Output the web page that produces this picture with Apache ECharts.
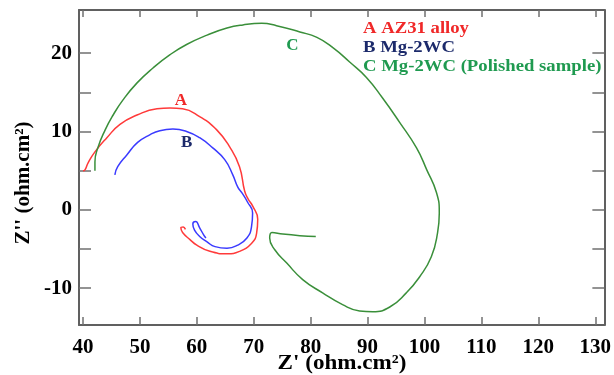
<!DOCTYPE html>
<html>
<head>
<meta charset="utf-8">
<script src="https://cdn.jsdelivr.net/npm/echarts@6/dist/echarts.min.js"></script>
<style>html,body{margin:0;padding:0;background:#fff;}#c{width:614px;height:375px;}</style>
</head>
<body>
<div id="c"></div>
<script>
// Z' values (ohm.cm²) and Z'' values for each sample
const seriesNames = ['A AZ31 alloy', 'B Mg-2WC', 'C Mg-2WC (Polished sample)'];
const xTicks = [40, 50, 60, 70, 80, 90, 100, 110, 120, 130];
const yTicks = [-10, 0, 10, 20];
const yMinorTicks = [-10, -5, 0, 5, 10, 15, 20];

const aX = [40.0, 40.35, 40.9, 42.1, 44.2, 46.5, 49.5, 53.0, 55.3, 57.5, 60.5, 63.5, 65.8, 67.5, 68.4, 69.0, 69.8, 70.7, 70.5, 69.6, 67.5, 65.3, 62.3, 60.0, 58.8, 57.5, 57.2, 57.6, 58.0];
const aY = [4.98, 5.1, 6.0, 7.4, 9.2, 10.9, 12.1, 12.9, 13.0, 12.9, 11.9, 10.2, 8.0, 5.5, 2.4, 1.4, 0.5, -1.2, -3.0, -4.3, -5.3, -5.6, -5.3, -4.5, -3.8, -2.9, -2.3, -2.2, -2.5];

const bX = [45.6, 46.1, 47.7, 49.6, 51.8, 53.5, 55.8, 58.2, 60.5, 62.8, 64.9, 66.3, 67.2, 67.9, 68.9, 69.8, 69.6, 68.8, 67.2, 65.3, 63.2, 61.8, 60.5, 59.6, 59.3, 59.8, 60.5, 61.2, 61.6];
const bY = [4.47, 5.5, 7.0, 8.6, 9.6, 10.1, 10.3, 10.0, 9.2, 7.9, 6.4, 4.5, 2.9, 2.2, 1.0, -0.4, -2.2, -3.6, -4.5, -4.9, -4.7, -4.1, -3.4, -2.6, -1.8, -1.5, -2.3, -3.2, -3.6];

const cX = [42.1, 42.1, 42.6, 43.9, 45.3, 47.0, 49.5, 52.3, 55.3, 58.2, 61.8, 65.3, 68.1, 71.4, 74.0, 78.1, 81.1, 83.9, 86.8, 89.8, 92.6, 95.6, 98.6, 100.4, 102.1, 102.6, 102.3, 101.2, 99.1, 96.8, 93.9, 90.9, 88.6, 85.6, 82.1, 78.6, 75.8, 73.7, 72.8, 73.2, 75.1, 78.1, 80.9];
const cY = [4.98, 6.1, 7.9, 10.2, 12.1, 14.0, 16.2, 18.1, 19.8, 21.1, 22.3, 23.2, 23.6, 23.8, 23.5, 22.7, 22.0, 20.7, 18.9, 16.9, 14.3, 11.2, 7.9, 5.1, 2.2, -0.4, -2.9, -6.0, -8.6, -10.6, -12.4, -13.0, -12.9, -12.1, -10.6, -8.9, -6.8, -5.1, -3.6, -2.9, -3.1, -3.3, -3.4];

const curveLabels = [
  {text: 'A', x: 57.2, y: 14.0, color: '#f02828'},
  {text: 'B', x: 58.2, y: 8.6, color: '#1c2a6b'},
  {text: 'C', x: 76.8, y: 20.9, color: '#1f9a50'}
];
const legendColors = ['#f02828', '#1c2a6b', '#1f9a50'];
const lineColors = ['#ff3a3a', '#3a3aff', '#3a8f3a'];

const zip = (xs, ys) => xs.map((v, i) => [v, ys[i]]);
const FONT = '"Liberation Serif", "Times New Roman", serif';

const chart = echarts.init(document.getElementById('c'), null, {renderer: 'canvas'});
const axisLineStyle = {color: '#606060', width: 2};
const tickStyle = {color: '#707070', width: 1.5};

const option = {
  animation: false,
  backgroundColor: '#fff',
  grid: {left: 79, right: 9, top: 10, bottom: 50, containLabel: false},
  xAxis: [{
    type: 'value', min: 39.3, max: 131.6, position: 'bottom',
    axisLine: {show: true, onZero: false, lineStyle: axisLineStyle},
    axisTick: {show: true, inside: true, length: 8, lineStyle: tickStyle, customValues: xTicks},
    axisLabel: {customValues: xTicks, color: '#000', fontFamily: FONT, fontWeight: 'bold', fontSize: 21, margin: 12},
    splitLine: {show: false}
  }, {
    type: 'value', min: 39.3, max: 131.6, position: 'top',
    axisLine: {show: true, onZero: false, lineStyle: axisLineStyle},
    axisTick: {show: true, inside: true, length: 7, lineStyle: tickStyle, customValues: xTicks},
    axisLabel: {show: false},
    splitLine: {show: false}
  }],
  yAxis: [{
    type: 'value', min: -14.7, max: 25.5, position: 'left',
    axisLine: {show: true, onZero: false, lineStyle: axisLineStyle},
    axisTick: {show: true, inside: true, length: 12, lineStyle: tickStyle, customValues: yMinorTicks},
    axisLabel: {customValues: yTicks, color: '#000', fontFamily: FONT, fontWeight: 'bold', fontSize: 21, margin: 7},
    splitLine: {show: false}
  }, {
    type: 'value', min: -14.7, max: 25.5, position: 'right',
    axisLine: {show: true, onZero: false, lineStyle: axisLineStyle},
    axisTick: {show: true, inside: true, length: 12, lineStyle: tickStyle, customValues: yMinorTicks},
    axisLabel: {show: false},
    splitLine: {show: false}
  }],
  series: [
    {name: seriesNames[0], type: 'line', data: zip(aX, aY), showSymbol: false, smooth: 0.5, lineStyle: {color: lineColors[0], width: 1.5}},
    {name: seriesNames[1], type: 'line', data: zip(bX, bY), showSymbol: false, smooth: 0.5, lineStyle: {color: lineColors[1], width: 1.5}},
    {name: seriesNames[2], type: 'line', data: zip(cX, cY), showSymbol: false, smooth: 0.5, lineStyle: {color: lineColors[2], width: 1.5}}
  ]
};
chart.setOption(option);

const gfx = [];
curveLabels.forEach(l => {
  const p = chart.convertToPixel({xAxisIndex: 0, yAxisIndex: 0}, [l.x, l.y]);
  gfx.push({type: 'text', x: p[0], y: p[1], style: {text: l.text, fill: l.color, font: 'bold 17px ' + FONT, textAlign: 'center', textVerticalAlign: 'middle'}});
});
seriesNames.forEach((n, i) => {
  gfx.push({type: 'text', x: 363, y: 20 + i * 19, scaleX: 1.1, style: {text: n, fill: legendColors[i], font: 'bold 17px ' + FONT}});
});
gfx.push({type: 'text', x: 342, y: 364, scaleX: 1.1, style: {text: "Z' (ohm.cm²)", fill: '#000', font: 'bold 21px ' + FONT, textAlign: 'center', textVerticalAlign: 'middle'}});
gfx.push({type: 'text', x: 24, y: 183, rotation: Math.PI / 2, style: {text: "Z'' (ohm.cm²)", fill: '#000', font: 'bold 21px ' + FONT, textAlign: 'center', textVerticalAlign: 'middle'}});
chart.setOption({graphic: gfx});
</script>
</body>
</html>
